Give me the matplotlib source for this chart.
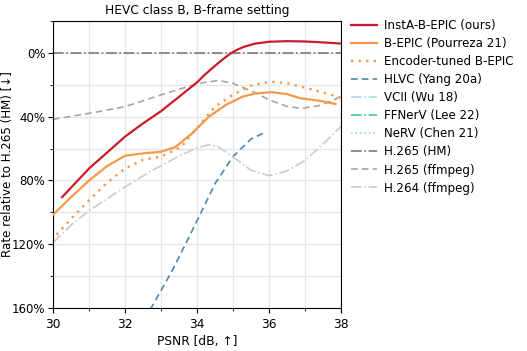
import matplotlib
matplotlib.use("Agg")
import matplotlib.pyplot as plt
from matplotlib.ticker import MultipleLocator, FuncFormatter

# PSNR [dB] / rate relative to H.265 (HM) [%]
insta_psnr = [30.25, 31.0, 31.5, 32.0, 32.45, 33.0, 33.25, 33.5, 33.75, 34.0, 34.2, 34.45, 34.7, 34.95, 35.15, 35.3, 35.6, 36.0, 36.5, 37.0, 37.5, 38.0]
insta_rate = [90.5, 72.5, 62.5, 52.5, 45, 36.5, 32, 27.5, 23, 18.5, 14, 9, 4.3, 0, -2.4, -3.8, -5.8, -7.0, -7.4, -7.2, -6.6, -5.9]

bepic_psnr = [30.0, 30.5, 31.0, 31.5, 32.0, 32.5, 33.0, 33.4, 33.86, 34.33, 34.8, 35.27, 35.6, 36.06, 36.5, 36.86, 37.4, 37.85]
bepic_rate = [101.5, 90.5, 80, 71, 64.5, 63, 62, 59, 50.5, 40, 32.6, 27.4, 25.5, 24.6, 25.8, 28.4, 30, 32]

enc_psnr = [30.1, 30.5, 31.0, 31.5, 32.0, 32.5, 33.0, 33.56, 34.03, 34.5, 34.99, 35.55, 36.06, 36.5, 36.86, 37.4, 38.0]
enc_rate = [114, 104, 92.5, 81.5, 72.5, 67, 65, 59, 46.3, 33.7, 26.3, 20, 18.1, 19, 21, 24.2, 28]

hlvc_psnr = [32.7, 33.3, 33.7, 34.05, 34.5, 35.0, 35.5, 35.83]
hlvc_rate = [161, 137, 119, 103, 82, 65, 54, 50.5]

# these three lie outside the plotted range
vcii_psnr, vcii_rate = [], []
ffnerv_psnr, ffnerv_rate = [], []
nerv_psnr, nerv_rate = [], []

hm_psnr = [30.0, 38.0]
hm_rate = [0, 0]

x265_psnr = [30.0, 31.0, 32.0, 33.0, 33.76, 34.2, 34.6, 34.99, 35.55, 36.06, 36.5, 36.9, 37.4, 38.0]
x265_rate = [41.6, 37.9, 33.7, 26.3, 21, 18.5, 17.3, 19, 24.2, 30, 33.5, 34.8, 33, 27.5]

x264_psnr = [30.0, 30.5, 31.0, 32.0, 32.73, 33.56, 34.0, 34.33, 34.6, 34.99, 35.5, 36.0, 36.5, 37.0, 37.6, 38.0]
x264_rate = [119, 108, 99, 84, 74, 64, 59.5, 57.5, 59, 65, 73.6, 77, 74, 67.5, 55, 46]

plt.rcParams['font.size'] = 8.8

fig = plt.figure(figsize=(5.27, 3.51), dpi=100)
ax = fig.add_axes([0.1006, 0.1225, 0.5465, 0.8175])

ax.plot(insta_psnr, insta_rate, color='#cc1a2c', lw=1.6, label='InstA-B-EPIC (ours)', zorder=5)
ax.plot(bepic_psnr, bepic_rate, color='#f5994a', lw=1.6, label='B-EPIC (Pourreza 21)', zorder=4)
ax.plot(enc_psnr, enc_rate, color='#f5994a', lw=1.7, ls=(0, (1, 2.2)), label='Encoder-tuned B-EPIC', zorder=4)
ax.plot(hlvc_psnr, hlvc_rate, color='#4a88ad', lw=1.2, ls=(0, (4, 2.5)), label='HLVC (Yang 20a)')
ax.plot(vcii_psnr, vcii_rate, color='#a8dbe6', lw=1.2, ls='-.', label='VCII (Wu 18)')
ax.plot(ffnerv_psnr, ffnerv_rate, color='#38c9ae', lw=1.2, ls='-.', label='FFNerV (Lee 22)')
ax.plot(nerv_psnr, nerv_rate, color='#8fe0d0', lw=1.2, ls=':', label='NeRV (Chen 21)')
ax.plot(hm_psnr, hm_rate, color='#7a7a7a', lw=1.2, ls='-.', label='H.265 (HM)')
ax.plot(x265_psnr, x265_rate, color='#a6a6a6', lw=1.2, ls=(0, (4, 2.5)), label='H.265 (ffmpeg)')
ax.plot(x264_psnr, x264_rate, color='#cccccc', lw=1.2, ls='-.', label='H.264 (ffmpeg)')

ax.set_xlim(30, 38)
ax.set_ylim(160, -20)
ax.xaxis.set_major_locator(MultipleLocator(2))
ax.xaxis.set_minor_locator(MultipleLocator(1))
ax.yaxis.set_major_locator(MultipleLocator(40))
ax.yaxis.set_minor_locator(MultipleLocator(20))
ax.yaxis.set_major_formatter(FuncFormatter(lambda v, p: f'{v:.0f}%'))
ax.tick_params(axis='y', pad=2, labelsize=8.5)
ax.grid(True, which='both', color='#e6e6e6', lw=1.0, zorder=0)
ax.set_axisbelow(True)

ax.set_title('HEVC class B, B-frame setting', fontsize=8.8, pad=5)
ax.set_xlabel('PSNR [dB, ↑]', fontsize=8.8, labelpad=3)
ax.set_ylabel('Rate relative to H.265 (HM) [↓]', fontsize=8.6)
ax.yaxis.set_label_coords(-0.136, 0.5)

ax.legend(loc='upper left', bbox_to_anchor=(1.005, 1.035), frameon=False,
          fontsize=8.6, handlelength=2.2, labelspacing=0.42, borderaxespad=0.3,
          handletextpad=0.6)

fig.savefig('out.png', dpi=100)
